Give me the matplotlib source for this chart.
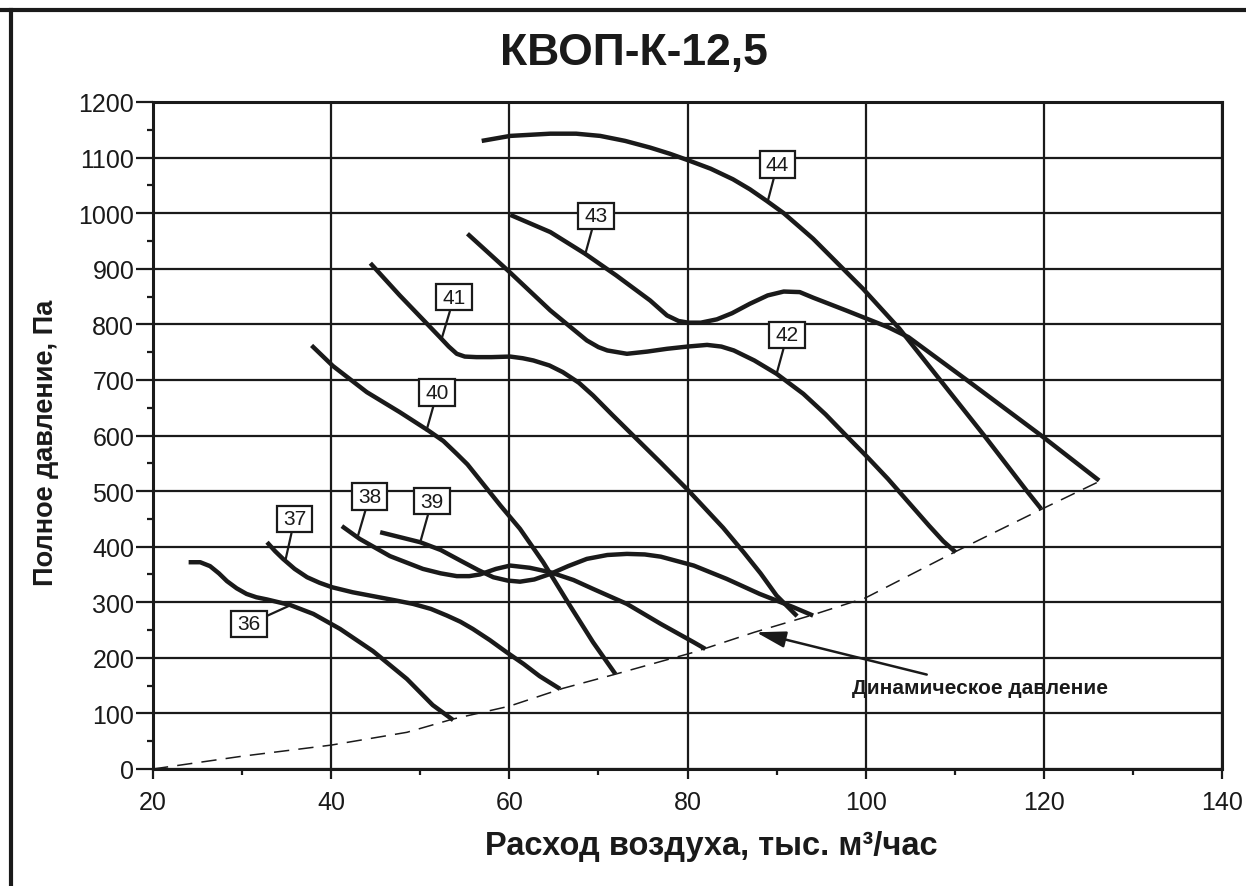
import matplotlib
matplotlib.use("Agg")
import matplotlib.pyplot as plt
from matplotlib.lines import Line2D
from matplotlib.patches import Rectangle
from matplotlib.ticker import MultipleLocator

plt.rcParams['font.family'] = ['Liberation Sans', 'DejaVu Sans']

# --- data ---
c36_x = [24.0, 25.3, 26.4, 27.4, 28.3, 29.4, 30.5, 31.6, 32.8, 35.4, 38.0, 41.0, 44.7, 48.5, 51.4, 53.7]
c36_y = [372, 372, 365, 352, 338, 325, 315, 309, 305, 295, 279, 252, 212, 162, 115, 88]

c37_x = [32.8, 33.7, 34.6, 35.9, 37.3, 38.7, 40.1, 42.4, 44.7, 47.0, 49.2, 51.2, 53.0, 54.5, 55.9,
         57.8, 59.7, 61.6, 63.4, 65.7]
c37_y = [408, 392, 378, 360, 345, 335, 327, 318, 311, 304, 297, 288, 276, 265, 252,
         232, 210, 189, 167, 144]

c38_x = [41.2, 43.2, 46.6, 50.3, 52.3, 54.1, 55.5, 56.7, 58.5, 60.1, 62.3, 64.6, 67.2, 69.4, 73.2,
         77.0, 80.7, 82.0]
c38_y = [437, 414, 383, 360, 352, 347, 347, 350, 360, 366, 362, 354, 340, 324, 297,
         261, 228, 216]

c39_x = [45.5, 50.0, 52.3, 54.5, 56.5, 58.2, 59.8, 61.2, 62.8, 64.6, 66.6, 68.7, 71.0, 73.2, 75.2,
         77.0, 80.7, 84.4, 88.1, 91.9, 94.1]
c39_y = [426, 408, 394, 375, 358, 345, 339, 337, 341, 351, 365, 378, 385, 387, 386,
         382, 366, 342, 315, 291, 276]

c40_x = [37.8, 40.2, 44.0, 47.7, 50.9, 52.6, 54.1, 55.3, 56.3, 59.0, 61.2, 63.8, 66.8, 69.4, 71.9]
c40_y = [762, 725, 678, 642, 609, 590, 567, 548, 528, 474, 432, 372, 294, 228, 171]

c41_x = [44.4, 47.7, 52.2, 53.2, 54.1, 55.0, 56.3, 58.0, 60.1, 61.5, 62.7, 64.5, 66.0, 67.8, 69.4,
         71.5, 73.9, 77.0, 80.1, 84.0, 86.3, 88.2, 90.0, 92.3]
c41_y = [910, 852, 777, 760, 747, 742, 741, 741, 742, 739, 735, 726, 714, 695, 672,
         638, 600, 551, 501, 434, 390, 352, 312, 275]

c42_x = [55.3, 60.1, 64.6, 68.7, 70.0, 71.0, 73.2, 75.5, 77.7, 80.0, 82.2, 83.8, 85.2, 87.5, 90.0,
         93.0, 95.5, 97.8, 100.2, 102.5, 104.8, 107.1, 108.7, 110.1]
c42_y = [963, 893, 825, 771, 759, 753, 747, 751, 756, 760, 763, 760, 753, 735, 711,
         675, 638, 600, 561, 522, 480, 438, 410, 390]

c43_x = [60.1, 64.6, 68.5, 72.0, 75.8, 77.7, 79.0, 80.1, 81.5, 83.3, 85.0, 87.0, 89.0, 90.8, 92.6,
         94.1, 97.8, 102.5, 104.8, 111.5, 119.7, 126.2]
c43_y = [997, 966, 927, 888, 843, 816, 806, 803, 803, 809, 820, 837, 852, 859, 858,
         848, 825, 795, 777, 698, 600, 519]

c44_x = [56.9, 60.1, 64.6, 67.5, 70.2, 73.0, 75.8, 78.0, 80.1, 82.6, 85.1, 87.0, 88.9, 90.8, 92.6,
         94.1, 99.7, 103.8, 108.4, 113.3, 118.1, 119.7]
c44_y = [1130, 1139, 1143, 1143, 1139, 1130, 1118, 1107, 1095, 1080, 1061, 1043, 1022, 1000, 975,
         954, 864, 792, 699, 600, 500, 468]

dyn_x = [20, 30, 40, 48.5, 53.7, 60, 66, 72, 80.7, 87.5, 94, 100, 110.2, 119.7, 126.3]
dyn_y = [0, 23, 43, 66, 90, 113, 145, 171, 210, 246, 277, 308, 392, 467, 518]

curves = [(c36_x, c36_y), (c37_x, c37_y), (c38_x, c38_y), (c39_x, c39_y), (c40_x, c40_y),
          (c41_x, c41_y), (c42_x, c42_y), (c43_x, c43_y), (c44_x, c44_y)]

# label text, box centre, point on curve
labels = ['36', '37', '38', '39', '40', '41', '42', '43', '44']
label_xy = [(30.8, 261), (35.9, 450), (44.3, 490), (51.3, 482), (51.9, 677),
            (53.8, 849), (91.2, 781), (69.7, 995), (90.1, 1088)]
label_pt = [(35.2, 293), (34.9, 378), (43.0, 419), (50.0, 408), (50.7, 609),
            (52.4, 774), (90.0, 711), (68.5, 925), (89.0, 1021)]

title = 'КВОП-К-12,5'
xlabel = 'Расход воздуха, тыс. м³/час'
ylabel = 'Полное давление, Па'
dyn_text = 'Динамическое давление'

fig = plt.figure(figsize=(12.46, 8.87), dpi=100)
ax = fig.add_axes([153 / 1246, 117 / 887, 1069 / 1246, 667 / 887])

ax.set_xlim(20, 140)
ax.set_ylim(0, 1200)
ax.xaxis.set_major_locator(MultipleLocator(20))
ax.xaxis.set_minor_locator(MultipleLocator(10))
ax.yaxis.set_major_locator(MultipleLocator(100))
ax.yaxis.set_minor_locator(MultipleLocator(50))
ax.set_axisbelow(True)
ax.grid(True, which='major', color='#1a1a1a', lw=1.6)

for s in ax.spines.values():
    s.set_linewidth(2.2)
    s.set_color('#1a1a1a')

ax.tick_params(axis='y', which='major', direction='out', length=12, width=1.6, pad=1.5,
               labelsize=18, colors='#1a1a1a')
ax.tick_params(axis='x', which='major', direction='out', length=7, width=1.6, pad=8,
               labelsize=18, colors='#1a1a1a')
ax.tick_params(which='minor', direction='out', length=4.5, width=1.6, colors='#1a1a1a')

for cx, cy in curves:
    ax.plot(cx, cy, color='#1a1a1a', lw=3.2, solid_capstyle='butt', solid_joinstyle='round', zorder=3)

ax.plot(dyn_x, dyn_y, color='#1a1a1a', lw=1.1, linestyle=(0, (10, 6)), zorder=3)

# numbered boxes: 4 x 48 data units ~ 36 x 27 px
bw, bh = 4.0, 48
for t, (tx, ty), (px, py) in zip(labels, label_xy, label_pt):
    box = Rectangle((tx - bw / 2, ty - bh / 2), bw, bh, fc='white', ec='#1a1a1a', lw=1.6, zorder=5)
    ax.add_patch(box)
    ax.annotate(t, xy=(px, py), xytext=(tx, ty), ha='center', va='center', fontsize=15,
                color='#1a1a1a', zorder=6,
                arrowprops=dict(arrowstyle='-', lw=1.6, color='#1a1a1a', shrinkA=0, shrinkB=0,
                                patchA=box))

ax.annotate(dyn_text, xy=(87.7, 246), xytext=(98.5, 146), ha='left', va='center',
            fontsize=15, fontweight='bold', color='#1a1a1a', zorder=5,
            arrowprops=dict(arrowstyle='-|>,head_length=0.9,head_width=0.25', lw=1.8,
                            color='#1a1a1a', shrinkA=3, shrinkB=0, mutation_scale=20))

fig.text(634 / 1246, 1 - 54 / 887, title, ha='center', va='center', fontsize=32,
         fontweight='bold', color='#1a1a1a')
fig.text(711 / 1246, 1 - 847 / 887, xlabel, ha='center', va='center', fontsize=23.5,
         fontweight='bold', color='#1a1a1a')
fig.text(46 / 1246, 1 - 443 / 887, ylabel, ha='center', va='center', fontsize=19.5,
         fontweight='bold', rotation=90, color='#1a1a1a')

# frame around the figure (top and left edges are visible in the reference)
fig.add_artist(Line2D([0, 1], [1 - 10.5 / 887, 1 - 10.5 / 887], transform=fig.transFigure,
                      color='#1a1a1a', lw=3))
fig.add_artist(Line2D([10.5 / 1246, 10.5 / 1246], [0, 1 - 10.5 / 887], transform=fig.transFigure,
                      color='#1a1a1a', lw=3))

fig.savefig('out.png', dpi=100)
